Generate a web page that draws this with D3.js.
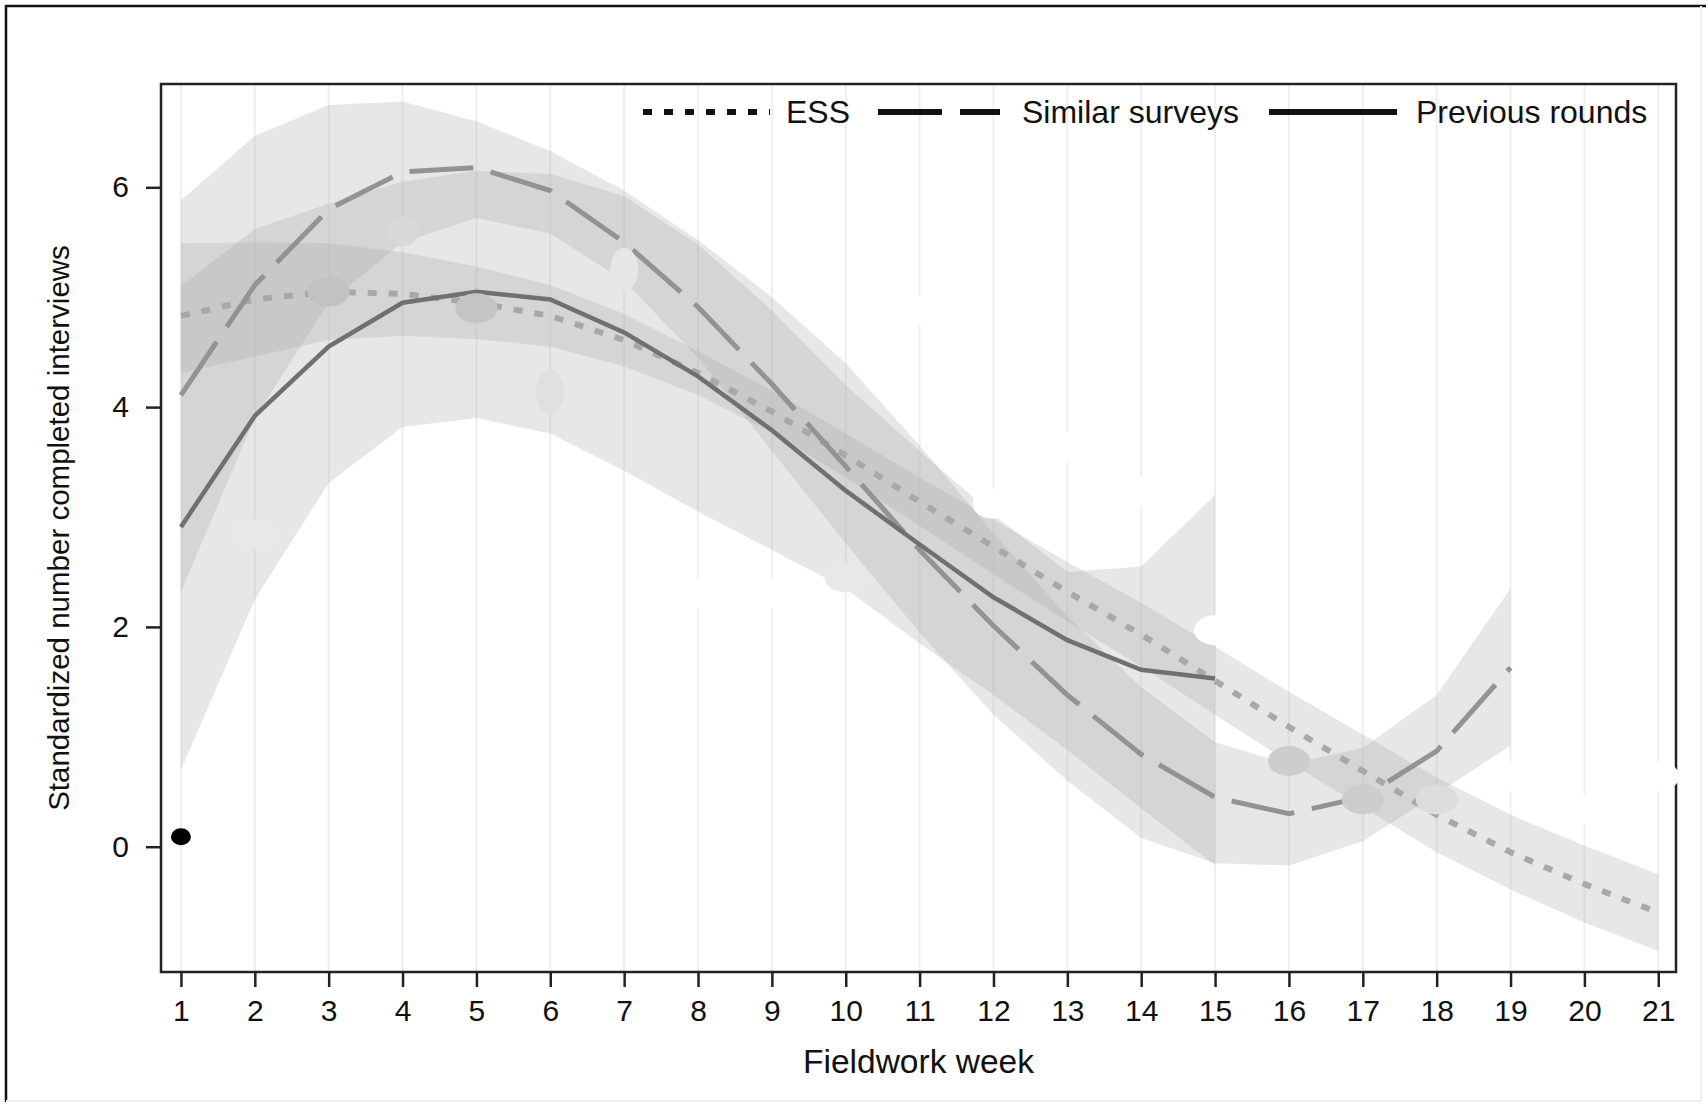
<!DOCTYPE html>
<html>
<head>
<meta charset="utf-8">
<script src="https://cdn.jsdelivr.net/npm/d3@7"></script>
<style>
  body { margin: 0; background: #fff; }
  text { font-family: "Liberation Sans", Arial, sans-serif; fill: #111; }
</style>
</head>
<body>
<div id="container"></div>
<script>
// weeks on the x axis
const weeks = d3.range(1, 22);
const yTicks = [0, 2, 4, 6];

// fitted lines
const essLine = [4.83, 4.98, 5.05, 5.03, 4.95, 4.83, 4.61, 4.31, 3.96, 3.56, 3.14, 2.73, 2.32, 1.93, 1.51, 1.09, 0.69, 0.29, -0.05, -0.34, -0.60];
const similarLine = [4.11, 5.11, 5.80, 6.14, 6.18, 5.97, 5.50, 4.91, 4.21, 3.46, 2.70, 2.01, 1.38, 0.84, 0.45, 0.30, 0.45, 0.87, 1.63];
const previousLine = [2.91, 3.92, 4.55, 4.95, 5.05, 4.98, 4.68, 4.28, 3.79, 3.24, 2.75, 2.27, 1.88, 1.61, 1.53];

// confidence bands
const essUpper = [5.49, 5.50, 5.49, 5.41, 5.28, 5.11, 4.85, 4.51, 4.15, 3.76, 3.36, 2.98, 2.59, 2.22, 1.82, 1.41, 1.02, 0.63, 0.29, 0.01, -0.25];
const essLower = [4.31, 4.46, 4.61, 4.65, 4.62, 4.55, 4.37, 4.11, 3.77, 3.36, 2.92, 2.48, 2.05, 1.64, 1.20, 0.77, 0.36, -0.05, -0.39, -0.69, -0.95];
const similarUpper = [5.88, 6.47, 6.75, 6.78, 6.60, 6.33, 5.97, 5.52, 5.00, 4.40, 3.65, 2.85, 2.10, 1.45, 0.95, 0.75, 0.90, 1.38, 2.35];
const similarLower = [2.32, 3.90, 4.95, 5.50, 5.72, 5.58, 5.15, 4.45, 3.60, 2.76, 1.95, 1.20, 0.60, 0.08, -0.15, -0.17, 0.05, 0.48, 0.92];
const previousUpper = [5.10, 5.62, 5.85, 6.05, 6.15, 6.12, 5.92, 5.48, 4.88, 4.20, 3.60, 3.02, 2.50, 2.55, 3.20];
const previousLower = [0.70, 2.25, 3.31, 3.82, 3.90, 3.76, 3.42, 3.05, 2.70, 2.35, 1.85, 1.38, 0.88, 0.35, -0.17];

// observed points
const pointValues = [0.09, 2.84, 5.05, 5.60, 4.90, 4.14, 5.25, 2.30, 2.30, 2.45, 4.88, 3.12, 3.64, 3.24, 1.97, 0.78, 0.43, 0.43, 0.64, 0.34, 0.64];
const pointShade = ["#000", "#e8e8e8", "#c2c2c2", "#d8d8d8", "#c4c4c4", "#e0e0e0", "#e6e6e6", "#fff", "#fff", "#e8e8e8", "#fff",
  "#fff", "#fff", "#fff", "#fff", "#cdcdcd", "#cdcdcd", "#dcdcdc", "#fff", "#fff", "#fff"];

const legendItems = [
  { label: "ESS", dash: "9,12", len: 127 },
  { label: "Similar surveys", dash: "64,18", len: 122 },
  { label: "Previous rounds", dash: null, len: 128 }
];

const width = 1708;
const height = 1106;
const marginTop = 84;
const marginRight = 32;
const marginBottom = 134;
const marginLeft = 161;

const x = d3.scaleLinear()
  .domain([0.73, 21.24])
  .range([marginLeft, width - marginRight]);

const y = d3.scaleLinear()
  .domain([-1.14, 6.94])
  .range([height - marginBottom, marginTop]);

const svg = d3.create("svg")
  .attr("width", width)
  .attr("height", height)
  .attr("viewBox", [0, 0, width, height]);

svg.append("rect").attr("width", width).attr("height", height).attr("fill", "#fff");

// outer frame
svg.append("line").attr("x1", 6).attr("x2", 6).attr("y1", 5).attr("y2", 1102).attr("stroke", "#111").attr("stroke-width", 2.5);
svg.append("line").attr("x1", 5).attr("x2", 1706).attr("y1", 6).attr("y2", 6).attr("stroke", "#111").attr("stroke-width", 2.5);
svg.append("line").attr("x1", 6).attr("x2", 1701).attr("y1", 1101).attr("y2", 1101).attr("stroke", "#efefef").attr("stroke-width", 2);
svg.append("line").attr("x1", 1701).attr("x2", 1701).attr("y1", 6).attr("y2", 1101).attr("stroke", "#efefef").attr("stroke-width", 2);

// vertical grid
svg.append("g")
  .selectAll("line")
  .data(weeks)
  .join("line")
  .attr("x1", d => x(d))
  .attr("x2", d => x(d))
  .attr("y1", marginTop)
  .attr("y2", height - marginBottom)
  .attr("stroke", "#efefef")
  .attr("stroke-width", 2);

// bands
const bands = [
  { upper: similarUpper, lower: similarLower },
  { upper: previousUpper, lower: previousLower },
  { upper: essUpper, lower: essLower }
];

const area = d3.area()
  .x((d, i) => x(weeks[i]))
  .y0(d => y(d[0]))
  .y1(d => y(d[1]));

svg.append("g")
  .selectAll("path")
  .data(bands)
  .join("path")
  .attr("d", d => area(d.lower.map((v, i) => [v, d.upper[i]])))
  .attr("fill", "#a8a8a8")
  .attr("fill-opacity", 0.28);

// fitted lines
const line = d3.line()
  .x((d, i) => x(weeks[i]))
  .y(d => y(d));

svg.append("path")
  .attr("d", line(essLine))
  .attr("fill", "none")
  .attr("stroke", "#a8a8a8")
  .attr("stroke-width", 6)
  .attr("stroke-dasharray", "9,12");

svg.append("path")
  .attr("d", line(similarLine))
  .attr("fill", "none")
  .attr("stroke", "#939393")
  .attr("stroke-width", 5)
  .attr("stroke-dasharray", "64,18");

svg.append("path")
  .attr("d", line(previousLine))
  .attr("fill", "none")
  .attr("stroke", "#707070")
  .attr("stroke-width", 4.5);

// plot frame
svg.append("rect")
  .attr("x", marginLeft)
  .attr("y", marginTop)
  .attr("width", width - marginRight - marginLeft)
  .attr("height", height - marginBottom - marginTop)
  .attr("fill", "none")
  .attr("stroke", "#222")
  .attr("stroke-width", 2.5);

// points (drawn over frame, as in the original)
svg.append("g")
  .selectAll("ellipse")
  .data(pointValues)
  .join("ellipse")
  .attr("cx", (d, i) => x(weeks[i]))
  .attr("cy", d => y(d))
  .attr("rx", (d, i) => i === 0 ? 10 : (i === 5 || i === 6) ? 14 : i === 3 ? 16 : 21)
  .attr("ry", (d, i) => i === 0 ? 8.5 : (i === 5 || i === 6) ? 22 : 15)
  .attr("fill", (d, i) => pointShade[i]);

// legend
const legendX = [643, 878, 1269];
const legendTextX = [786, 1022, 1416];
const legend = svg.append("g");
legendItems.forEach((d, i) => {
  legend.append("line")
    .attr("x1", legendX[i])
    .attr("x2", legendX[i] + d.len)
    .attr("y1", 112)
    .attr("y2", 112)
    .attr("stroke", "#111")
    .attr("stroke-width", 6)
    .attr("stroke-dasharray", d.dash);
  legend.append("text")
    .attr("x", legendTextX[i])
    .attr("y", 123)
    .attr("font-size", 32)
    .text(d.label);
});

// axes
svg.append("g")
  .attr("transform", `translate(0,${height - marginBottom})`)
  .call(d3.axisBottom(x).tickValues(weeks).tickSize(15).tickPadding(13))
  .call(g => g.select(".domain").remove())
  .call(g => g.selectAll(".tick line").attr("stroke", "#222").attr("stroke-width", 2.5))
  .call(g => g.selectAll(".tick text").attr("font-size", 30).attr("font-family", "Liberation Sans, Arial, sans-serif").attr("fill", "#111"));

svg.append("g")
  .attr("transform", `translate(${marginLeft},0)`)
  .call(d3.axisLeft(y).tickValues(yTicks).tickSize(15).tickPadding(17))
  .call(g => g.select(".domain").remove())
  .call(g => g.selectAll(".tick line").attr("stroke", "#222").attr("stroke-width", 2.5))
  .call(g => g.selectAll(".tick text").attr("font-size", 30).attr("font-family", "Liberation Sans, Arial, sans-serif").attr("fill", "#111"));

svg.append("text")
  .attr("x", (marginLeft + width - marginRight) / 2)
  .attr("y", 1073)
  .attr("text-anchor", "middle")
  .attr("font-size", 33.5)
  .text("Fieldwork week");

svg.append("text")
  .attr("transform", `translate(69,${(marginTop + height - marginBottom) / 2}) rotate(-90)`)
  .attr("text-anchor", "middle")
  .attr("font-size", 29.5)
  .text("Standardized number completed interviews");

document.getElementById("container").append(svg.node());
</script>
</body>
</html>
